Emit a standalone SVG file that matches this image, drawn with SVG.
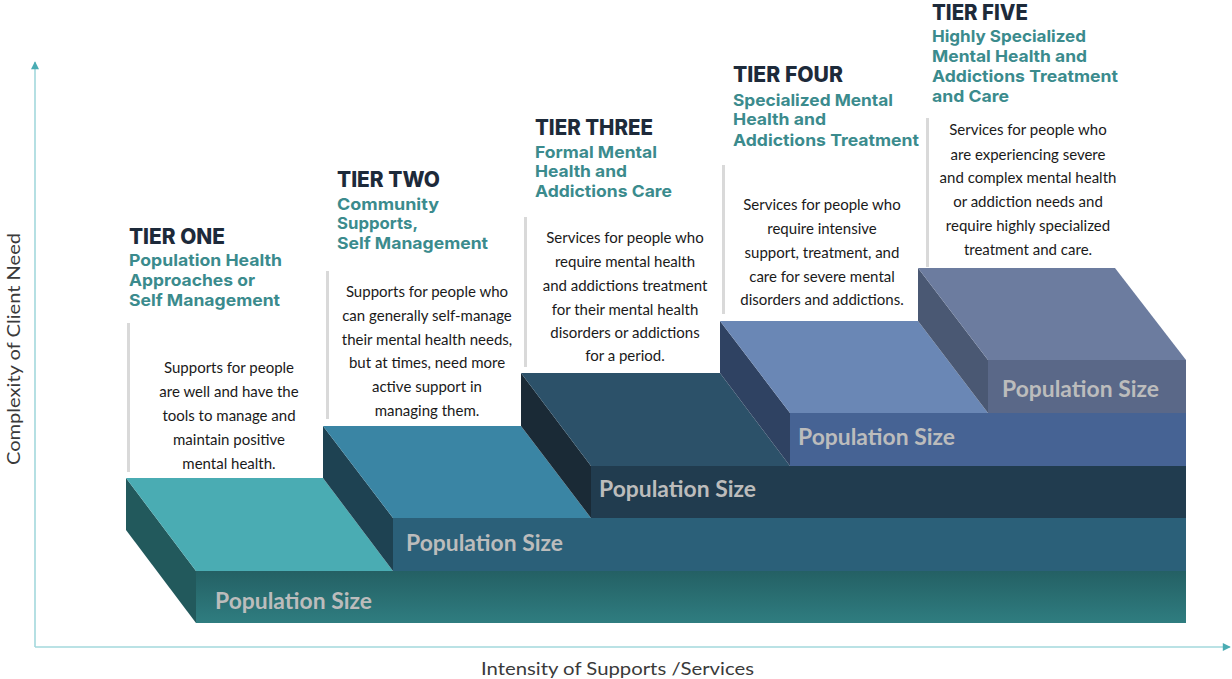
<svg xmlns="http://www.w3.org/2000/svg" width="1232" height="679" viewBox="0 0 1232 679">
  <style>
    .tier { font-family: Inter, "Open Sans", sans-serif; font-weight: 800; font-size: 21px; fill: #1d2a3a; }
    .sub { font-family: Inter, "Open Sans", sans-serif; font-weight: 700; font-size: 16.5px; fill: #3b8b8d; }
    .body { font-family: Lato, "Open Sans", sans-serif; font-size: 15px; fill: #1a1a1a; text-anchor: middle; }
    .pop { font-family: Lato, "Open Sans", sans-serif; font-weight: 700; font-size: 22px; fill: #bcbcbc; }
    .bar { fill: #d9d9d9; }
    .axis { stroke: #a3d8dc; stroke-width: 1.6; fill: none; }
    .axislabel { font-family: Lato, "Open Sans", sans-serif; font-size: 18px; fill: #3a3a3a; }
  </style>
  <defs>
    <linearGradient id="baseFront" x1="0" y1="0" x2="0" y2="1">
      <stop offset="0" stop-color="#246064"/>
      <stop offset="1" stop-color="#2f7d80"/>
    </linearGradient>
    <marker id="arrow" viewBox="0 0 10 10" refX="9" refY="5" markerWidth="9" markerHeight="8" markerUnits="userSpaceOnUse" orient="auto">
      <path d="M0,0 L10,5 L0,10 Z" fill="#4aacb3"/>
    </marker>
  </defs>
  <rect width="1232" height="679" fill="#ffffff"/>

  <!-- axes -->
  <g id="connectors">
    <line class="axis" x1="35" y1="647" x2="35" y2="62" marker-end="url(#arrow)"/>
    <line class="axis" x1="35" y1="647" x2="1230" y2="647" marker-end="url(#arrow)"/>
  </g>

  <text class="axislabel" transform="translate(20,349) rotate(-90)" text-anchor="middle" textLength="232" lengthAdjust="spacingAndGlyphs">Complexity of Client Need</text>
  <text class="axislabel" x="481" y="675" textLength="273" lengthAdjust="spacingAndGlyphs">Intensity of Supports /Services</text>

  <!-- tier one: lowest slab -->
  <g id="tier1">
    <polygon points="126,478 196,571 196,623 126,530" fill="#22595c"/>
    <polygon points="126,478 323,478 393,571 196,571" fill="#4aacb3"/>
    <rect x="196" y="571" width="990" height="52" fill="url(#baseFront)"/>
    <text class="pop" x="215" y="609" textLength="157" lengthAdjust="spacingAndGlyphs">Population Size</text>
    <rect class="bar" x="127" y="323" width="3" height="149"/>
    <text class="tier" x="129" y="244" textLength="96" lengthAdjust="spacingAndGlyphs">TIER ONE</text>
    <text class="sub" x="129" y="266" textLength="153" lengthAdjust="spacingAndGlyphs">Population Health</text>
    <text class="sub" x="129" y="286" textLength="126" lengthAdjust="spacingAndGlyphs">Approaches or</text>
    <text class="sub" x="129" y="306" textLength="151" lengthAdjust="spacingAndGlyphs">Self Management</text>
    <text class="body" x="229" y="373">Supports for people</text>
    <text class="body" x="229" y="397">are well and have the</text>
    <text class="body" x="229" y="421">tools to manage and</text>
    <text class="body" x="229" y="445">maintain positive</text>
    <text class="body" x="229" y="469">mental health.</text>
  </g>

  <!-- tier two -->
  <g id="tier2">
    <polygon points="323,426 393,518 393,571 323,478" fill="#1e4252"/>
    <polygon points="323,426 521,426 591,518 393,518" fill="#3a85a4"/>
    <rect x="393" y="518" width="793" height="53" fill="#2b6079"/>
    <text class="pop" x="406" y="551" textLength="157" lengthAdjust="spacingAndGlyphs">Population Size</text>
    <rect class="bar" x="326" y="271" width="3" height="148"/>
    <text class="tier" x="337" y="187" textLength="103" lengthAdjust="spacingAndGlyphs">TIER TWO</text>
    <text class="sub" x="337" y="210" textLength="102" lengthAdjust="spacingAndGlyphs">Community</text>
    <text class="sub" x="337" y="229" textLength="81" lengthAdjust="spacingAndGlyphs">Supports,</text>
    <text class="sub" x="337" y="249" textLength="151" lengthAdjust="spacingAndGlyphs">Self Management</text>
    <text class="body" x="427" y="297">Supports for people who</text>
    <text class="body" x="427" y="321">can generally self-manage</text>
    <text class="body" x="427" y="345">their mental health needs,</text>
    <text class="body" x="427" y="368">but at times, need more</text>
    <text class="body" x="427" y="392">active support in</text>
    <text class="body" x="427" y="416">managing them.</text>
  </g>

  <!-- tier three -->
  <g id="tier3">
    <polygon points="521,373 591,466 591,518 521,426" fill="#1a2a36"/>
    <polygon points="521,373 720,373 790,466 591,466" fill="#2c5169"/>
    <rect x="591" y="466" width="595" height="52" fill="#213c4f"/>
    <text class="pop" x="599" y="497" textLength="157" lengthAdjust="spacingAndGlyphs">Population Size</text>
    <rect class="bar" x="524" y="217" width="3" height="150"/>
    <text class="tier" x="535" y="135" textLength="118" lengthAdjust="spacingAndGlyphs">TIER THREE</text>
    <text class="sub" x="535" y="158" textLength="122" lengthAdjust="spacingAndGlyphs">Formal Mental</text>
    <text class="sub" x="535" y="177" textLength="92" lengthAdjust="spacingAndGlyphs">Health and</text>
    <text class="sub" x="535" y="197" textLength="137" lengthAdjust="spacingAndGlyphs">Addictions Care</text>
    <text class="body" x="625" y="243">Services for people who</text>
    <text class="body" x="625" y="267">require mental health</text>
    <text class="body" x="625" y="291">and addictions treatment</text>
    <text class="body" x="625" y="315">for their mental health</text>
    <text class="body" x="625" y="338">disorders or addictions</text>
    <text class="body" x="625" y="361">for a period.</text>
  </g>

  <!-- tier four -->
  <g id="tier4">
    <polygon points="720,321 790,413 790,466 720,373" fill="#2f4262"/>
    <polygon points="720,321 918,321 988,413 790,413" fill="#6a87b5"/>
    <rect x="790" y="413" width="396" height="53" fill="#466394"/>
    <text class="pop" x="798" y="445" textLength="157" lengthAdjust="spacingAndGlyphs">Population Size</text>
    <rect class="bar" x="722" y="165" width="3" height="149"/>
    <text class="tier" x="733" y="82" textLength="110" lengthAdjust="spacingAndGlyphs">TIER FOUR</text>
    <text class="sub" x="733" y="106" textLength="160" lengthAdjust="spacingAndGlyphs">Specialized Mental</text>
    <text class="sub" x="733" y="125" textLength="93" lengthAdjust="spacingAndGlyphs">Health and</text>
    <text class="sub" x="733" y="146" textLength="186" lengthAdjust="spacingAndGlyphs">Addictions Treatment</text>
    <text class="body" x="822" y="210">Services for people who</text>
    <text class="body" x="822" y="234">require intensive</text>
    <text class="body" x="822" y="258">support, treatment, and</text>
    <text class="body" x="822" y="282">care for severe mental</text>
    <text class="body" x="822" y="305">disorders and addictions.</text>
  </g>

  <!-- tier five: top slab -->
  <g id="tier5">
    <polygon points="918,268 988,360 988,413 918,321" fill="#4a5873"/>
    <polygon points="918,268 1115,268 1186,360 988,360" fill="#6c7c9f"/>
    <rect x="988" y="360" width="198" height="53" fill="#5a6888"/>
    <text class="pop" x="1002" y="397" textLength="157" lengthAdjust="spacingAndGlyphs">Population Size</text>
    <rect class="bar" x="926" y="118" width="3" height="149"/>
    <text class="tier" x="932" y="20" textLength="96" lengthAdjust="spacingAndGlyphs">TIER FIVE</text>
    <text class="sub" x="932" y="42" textLength="154" lengthAdjust="spacingAndGlyphs">Highly Specialized</text>
    <text class="sub" x="932" y="62" textLength="155" lengthAdjust="spacingAndGlyphs">Mental Health and</text>
    <text class="sub" x="932" y="82" textLength="186" lengthAdjust="spacingAndGlyphs">Addictions Treatment</text>
    <text class="sub" x="932" y="102" textLength="77" lengthAdjust="spacingAndGlyphs">and Care</text>
    <text class="body" x="1028" y="135">Services for people who</text>
    <text class="body" x="1028" y="160">are experiencing severe</text>
    <text class="body" x="1028" y="183">and complex mental health</text>
    <text class="body" x="1028" y="207">or addiction needs and</text>
    <text class="body" x="1028" y="231">require highly specialized</text>
    <text class="body" x="1028" y="255">treatment and care.</text>
  </g>
</svg>
